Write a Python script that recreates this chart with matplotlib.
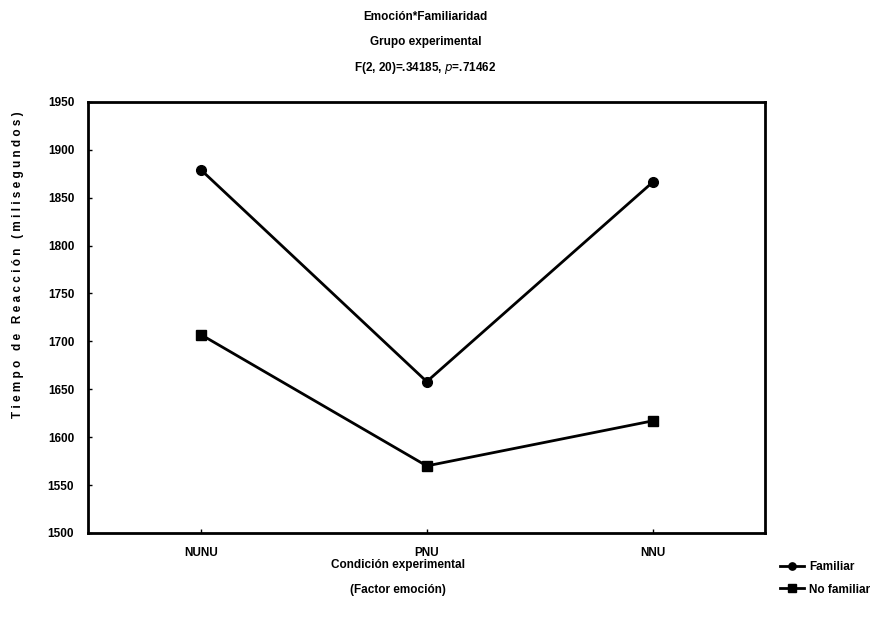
import numpy as np
import matplotlib
matplotlib.use("Agg")
from matplotlib import pyplot as plt

plt.rcParams['font.family'] = ['Liberation Sans Narrow', 'Liberation Sans', 'DejaVu Sans']

condiciones = ['NUNU', 'PNU', 'NNU']
familiar = [1879, 1658, 1866]
no_familiar = [1707, 1570, 1617]
y_ticks = [1500, 1550, 1600, 1650, 1700, 1750, 1800, 1850, 1900, 1950]

fig = plt.figure(figsize=(8.9, 6.23), dpi=100)
ax = fig.add_axes([0.099, 0.1445, 0.761, 0.692])

x = np.arange(len(condiciones))
ax.plot(x, familiar, '-o', color='black', lw=2, ms=7, label='Familiar')
ax.plot(x, no_familiar, '-s', color='black', lw=2, ms=7, label='No familiar')

ax.set_xlim(-0.5, 2.5)
ax.set_ylim(1500, 1950)
ax.set_yticks(y_ticks)
ax.set_yticklabels([str(t) for t in y_ticks], fontsize=8.5, fontweight='bold')
ax.set_xticks(x)
ax.set_xticklabels(condiciones, fontsize=8.5, fontweight='bold')
ax.tick_params(direction='in', length=3, width=1, pad=10)
for s in ax.spines.values():
    s.set_linewidth(2)

# titulo
fig.text(0.478, 0.972, 'Emoción*Familiaridad', ha='center', va='center', fontsize=8.5, fontweight='bold')
fig.text(0.478, 0.932, 'Grupo experimental', ha='center', va='center', fontsize=8.5, fontweight='bold')
fig.text(0.478, 0.891, 'F(2, 20)=.34185, $\\it{p}$=.71462', ha='center', va='center', fontsize=8.5, fontweight='bold')

# ejes
fig.text(0.447, 0.093, 'Condición experimental', ha='center', va='center', fontsize=8.5, fontweight='bold')
fig.text(0.447, 0.053, '(Factor emoción)', ha='center', va='center', fontsize=8.5, fontweight='bold')
fig.text(0.02, 0.575, 'T i e m p o   d e   R e a c c i ó n   ( m i l i s e g u n d o s )',
         rotation=90, ha='center', va='center', fontsize=8.5, fontweight='bold')

leg = fig.legend(loc='lower left', bbox_to_anchor=(0.865, 0.027), frameon=False,
                 handlelength=2.0, handletextpad=0.4, labelspacing=0.9,
                 markerscale=0.75, prop={'weight': 'bold', 'size': 8.5})

fig.savefig('out.png', dpi=100, facecolor='white')
